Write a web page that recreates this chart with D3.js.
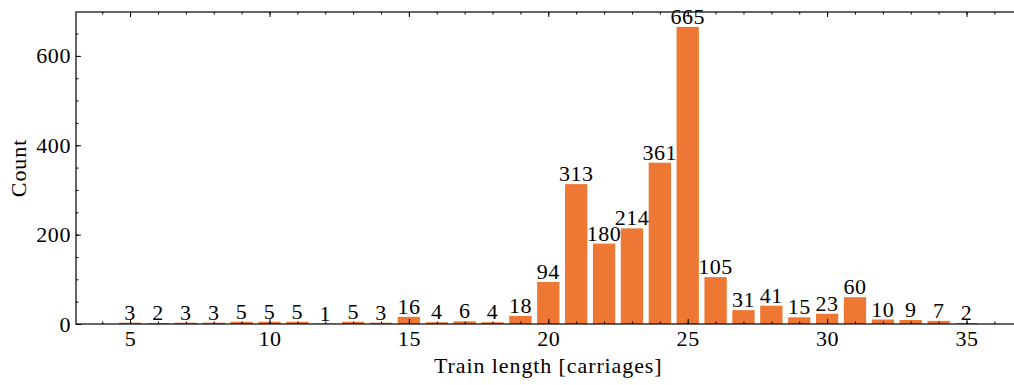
<!DOCTYPE html>
<html>
<head>
<meta charset="utf-8">
<script src="https://cdn.jsdelivr.net/npm/d3@7"></script>
<style>
  html, body { margin: 0; padding: 0; background: #fff; }
  svg { display: block; }
  text { font-family: "Liberation Serif", "Times New Roman", serif; fill: #000; }
</style>
</head>
<body>
<svg id="chart" width="1014" height="385"></svg>
<script>
// Number of trains observed for each train length (in carriages)
const lengths = [5, 6, 7, 8, 9, 10, 11, 12, 13, 14, 15, 16, 17, 18, 19, 20,
                 21, 22, 23, 24, 25, 26, 27, 28, 29, 30, 31, 32, 33, 34, 35];
const counts  = [3, 2, 3, 3, 5, 5, 5, 1, 5, 3, 16, 4, 6, 4, 18, 94,
                 313, 180, 214, 361, 665, 105, 31, 41, 15, 23, 60, 10, 9, 7, 2];
const xMajorTicks = [5, 10, 15, 20, 25, 30, 35];
const yMajorTicks = [0, 200, 400, 600];
const xLabel = "Train length [carriages]";
const yLabel = "Count";

const barWidth = 0.8;
const barColor = "#ee7733";
const fontSize = 22;

const svg = d3.select("#chart");
const plotLeft = 76, plotRight = 1020.6, plotTop = 12, plotBottom = 324;

// Axis limits follow the usual 5% padding around the bars
const xMin = d3.min(lengths) - barWidth / 2, xMax = d3.max(lengths) + barWidth / 2;
const xPad = (xMax - xMin) * 0.05;
const x = d3.scaleLinear().domain([xMin - xPad, xMax + xPad]).range([plotLeft, plotRight]);
const y = d3.scaleLinear().domain([0, d3.max(counts) * 1.05]).range([plotBottom, plotTop]);

const data = lengths.map((l, i) => ({ len: l, n: counts[i] }));

// Bars
svg.append("g").selectAll("rect").data(data).join("rect")
  .attr("x", d => x(d.len - barWidth / 2))
  .attr("width", d => x(d.len + barWidth / 2) - x(d.len - barWidth / 2))
  .attr("y", d => y(d.n))
  .attr("height", d => y(0) - y(d.n))
  .attr("fill", barColor);

// Minor tick positions
const xMinor = d3.range(Math.ceil(x.domain()[0]), Math.floor(x.domain()[1]) + 1);
const yMinor = d3.range(0, y.domain()[1], 50);

function styleAxis(g) {
  g.select(".domain").remove();
  g.selectAll("line").attr("stroke", "#000").attr("stroke-width", 1);
  g.selectAll("text").style("font-size", fontSize + "px").style("letter-spacing", "0.6px")
    .attr("font-family", null);
}

// Bottom axis (ticks point inward)
svg.append("g").attr("transform", `translate(0,${plotBottom})`)
  .call(d3.axisBottom(x).tickValues(xMinor).tickSize(-2.5).tickFormat(""))
  .call(styleAxis);
svg.append("g").attr("transform", `translate(0,${plotBottom})`)
  .call(d3.axisBottom(x).tickValues(xMajorTicks).tickSize(-5).tickPadding(6).tickFormat(d3.format("d")))
  .call(styleAxis);

// Top axis, ticks only
svg.append("g").attr("transform", `translate(0,${plotTop})`)
  .call(d3.axisTop(x).tickValues(xMinor).tickSize(-2.5).tickFormat(""))
  .call(styleAxis);
svg.append("g").attr("transform", `translate(0,${plotTop})`)
  .call(d3.axisTop(x).tickValues(xMajorTicks).tickSize(-5).tickFormat(""))
  .call(styleAxis);

// Left axis
svg.append("g").attr("transform", `translate(${plotLeft},0)`)
  .call(d3.axisLeft(y).tickValues(yMinor).tickSize(-2.5).tickFormat(""))
  .call(styleAxis);
svg.append("g").attr("transform", `translate(${plotLeft},0)`)
  .call(d3.axisLeft(y).tickValues(yMajorTicks).tickSize(-5).tickPadding(5).tickFormat(d3.format("d")))
  .call(styleAxis);

// Right axis
svg.append("g").attr("transform", `translate(${plotRight},0)`)
  .call(d3.axisRight(y).tickValues(yMinor).tickSize(-2.5).tickFormat(""))
  .call(styleAxis);
svg.append("g").attr("transform", `translate(${plotRight},0)`)
  .call(d3.axisRight(y).tickValues(yMajorTicks).tickSize(-5).tickFormat(""))
  .call(styleAxis);

// Frame
svg.append("rect")
  .attr("x", plotLeft).attr("y", plotTop)
  .attr("width", plotRight - plotLeft).attr("height", plotBottom - plotTop)
  .attr("fill", "none").attr("stroke", "#000").attr("stroke-width", 1.2);

// Value labels above the bars
svg.append("g").selectAll("text").data(data).join("text")
  .attr("x", d => x(d.len))
  .attr("y", d => y(d.n) - 3)
  .attr("text-anchor", "middle")
  .style("font-size", fontSize + "px")
  .style("letter-spacing", "0.5px")
  .text(d => d.n);

// Axis titles
svg.append("text")
  .attr("x", (plotLeft + plotRight) / 2).attr("y", 373)
  .attr("text-anchor", "middle")
  .style("font-size", fontSize + "px")
  .style("letter-spacing", "0.9px")
  .text(xLabel);

svg.append("text")
  .attr("transform", `translate(26,${(plotTop + plotBottom) / 2}) rotate(-90)`)
  .attr("text-anchor", "middle")
  .style("font-size", fontSize + "px")
  .style("letter-spacing", "0.9px")
  .text(yLabel);
</script>
</body>
</html>
